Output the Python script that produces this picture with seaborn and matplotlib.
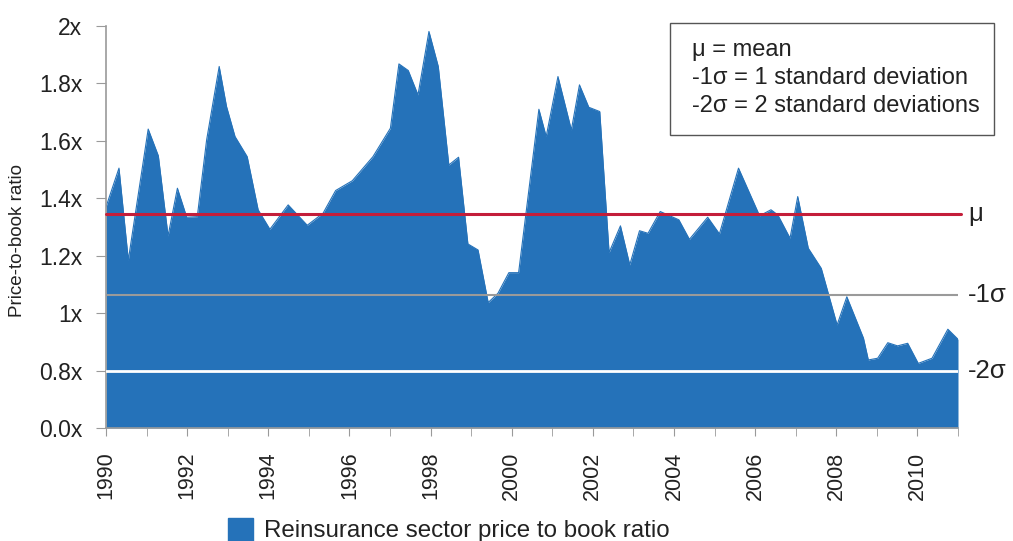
import numpy as np
import pandas as pd
import matplotlib
matplotlib.use('Agg')
import matplotlib.pyplot as plt
import seaborn as sns
from matplotlib.ticker import MultipleLocator

# Data (year, price-to-book ratio)
years = [1990.0, 1990.32, 1990.55, 1991.04, 1991.29, 1991.53, 1991.76, 1991.99,
         1992.25, 1992.48, 1992.79, 1992.97, 1993.18, 1993.48, 1993.75, 1994.04,
         1994.49, 1994.96, 1995.35, 1995.66, 1996.07, 1996.58, 1997.01, 1997.22,
         1997.45, 1997.69, 1997.96, 1998.19, 1998.45, 1998.69, 1998.92, 1999.17,
         1999.42, 1999.66, 1999.93, 2000.17, 2000.67, 2000.85, 2001.14, 2001.47,
         2001.67, 2001.9, 2002.17, 2002.40, 2002.68, 2002.91, 2003.15, 2003.36,
         2003.66, 2003.85, 2004.12, 2004.38, 2004.83, 2005.12, 2005.59, 2006.11,
         2006.39, 2006.56, 2006.86, 2007.05, 2007.31, 2007.63, 2008.02, 2008.26,
         2008.67, 2008.79, 2009.02, 2009.27, 2009.51, 2009.76, 2010.02, 2010.36,
         2010.75, 2011.0]
ratio = [1.37, 1.505, 1.185, 1.641, 1.548, 1.269, 1.435, 1.334,
         1.336, 1.603, 1.859, 1.72, 1.615, 1.545, 1.36, 1.292,
         1.377, 1.306, 1.348, 1.427, 1.461, 1.545, 1.644, 1.868,
         1.845, 1.76, 1.981, 1.859, 1.516, 1.543, 1.241, 1.22,
         1.037, 1.069, 1.141, 1.141, 1.71, 1.615, 1.824, 1.638,
         1.795, 1.717, 1.702, 1.211, 1.304, 1.168, 1.287, 1.278,
         1.354, 1.342, 1.325, 1.257, 1.334, 1.276, 1.505, 1.339,
         1.36, 1.342, 1.261, 1.406, 1.226, 1.156, 0.959, 1.057,
         0.913, 0.837, 0.843, 0.897, 0.886, 0.895, 0.825, 0.843,
         0.944, 0.909]

mean_val = 1.345
sigma1_val = 1.063
sigma2_val = 0.80
ref_labels = ['μ', '-1σ', '-2σ']
key_lines = ['μ = mean', '-1σ = 1 standard deviation', '-2σ = 2 standard deviations']

ytick_vals = [0.6, 0.8, 1.0, 1.2, 1.4, 1.6, 1.8, 2.0]
ytick_labels = ['0.0x', '0.8x', '1x', '1.2x', '1.4x', '1.6x', '1.8x', '2x']
xtick_years = list(range(1990, 2011, 2))

df = pd.DataFrame({'year': years, 'ratio': ratio})

sns.set_style('white')
plt.rcParams['font.family'] = ['Liberation Sans', 'DejaVu Sans']

blue = '#2572B9'
grey = '#9a9a9a'
dark = '#222222'

W, H = 1013, 541
fig = plt.figure(figsize=(W / 100, H / 100), dpi=100)
ax = fig.add_axes([106 / W, 1 - 428 / H, (958 - 106) / W, (428 - 26) / H])

ax.fill_between(df['year'], 0.6, df['ratio'], color=blue, lw=0, zorder=1)
sns.lineplot(data=df, x='year', y='ratio', color=blue, lw=0.8, ax=ax, zorder=2)

ax.axhline(mean_val, xmin=0, xmax=1.004, color='#C41E3A', lw=2.2, zorder=3, clip_on=False)
ax.axhline(sigma1_val, color=grey, lw=1.5, zorder=3)
ax.axhline(sigma2_val, color='white', lw=2.0, zorder=3)

for val, lab in zip([mean_val, sigma1_val, sigma2_val], ref_labels):
    ax.text(2011.25, val, lab, fontsize=18.5, color=dark, va='center', ha='left')

ax.set_xlim(1990, 2011)
ax.set_ylim(0.6, 2.0)
ax.set_yticks(ytick_vals)
ax.set_yticklabels(ytick_labels, fontsize=16.5, color=dark)
ax.set_xticks(xtick_years)
ax.set_xticklabels([str(y) for y in xtick_years], rotation=90, fontsize=15.5, color=dark)
ax.xaxis.set_minor_locator(MultipleLocator(1))
ax.tick_params(axis='x', which='both', direction='out', length=6, color=grey,
               bottom=True, pad=11)
ax.tick_params(axis='y', direction='out', length=7, color=grey, left=True, pad=10)
ax.set_xlabel('')
ax.set_ylabel('')

for s in ['top', 'right']:
    ax.spines[s].set_visible(False)
for s in ['left', 'bottom']:
    ax.spines[s].set_color(grey)
    ax.spines[s].set_linewidth(1.2)

fig.text(18 / W, 1 - 240 / H, 'Price-to-book ratio', fontsize=13.5, rotation=90,
         va='center', ha='center', color=dark)

# key box in the top right
fig.patches.append(plt.Rectangle((670 / W, 1 - 135 / H), 324 / W, 112 / H,
                                 transform=fig.transFigure, fc='white',
                                 ec='#555555', lw=1.0))
for i, line in enumerate(key_lines):
    fig.text(692 / W, 1 - (50 + i * 28) / H, line, fontsize=17, va='center',
             ha='left', color=dark)

# series legend at the bottom
fig.patches.append(plt.Rectangle((228 / W, 0), 25 / W, 23 / H,
                                 transform=fig.transFigure, color=blue))
fig.text(264 / W, 10 / H, 'Reinsurance sector price to book ratio', fontsize=17.4,
         va='center', ha='left', color=dark)

fig.savefig('out.png', dpi=100)
